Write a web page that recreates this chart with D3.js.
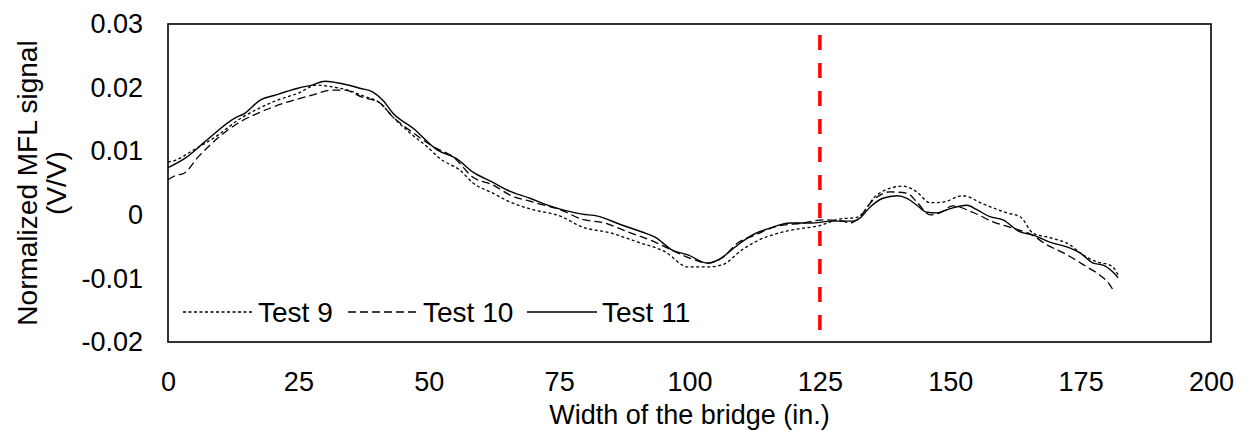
<!DOCTYPE html>
<html>
<head>
<meta charset="utf-8">
<script src="https://cdn.jsdelivr.net/npm/d3@7"></script>
<style>
  html, body { margin: 0; padding: 0; background: #fff; }
  svg { display: block; font-family: "Liberation Sans", Arial, sans-serif; }
</style>
</head>
<body>
<svg id="chart" width="1247" height="431"></svg>
<script>
// ---- data ----
const xTicks = [0, 25, 50, 75, 100, 125, 150, 175, 200];
const yTicks = [-0.02, -0.01, 0, 0.01, 0.02, 0.03];
const seriesNames = ["Test 9", "Test 10", "Test 11"];
const markerX = 125;

const test9X = [0, 1.5, 4.5, 9.0, 14, 17.6, 20.9, 24.9, 28.6, 31.6, 34.5, 37.4, 40.6, 43.1, 46.5, 49.7, 52.2, 56.0, 58.5, 62.3, 65.6, 70.0, 75.2, 79.4, 85.1, 90.1, 95.3, 99.7, 103.5, 106.2, 110.1, 112.5, 117.9, 121.0, 125.0, 128.5, 132.1, 135.9, 138.5, 140.9, 143.6, 146.1, 148.6, 152.4, 156.3, 160.9, 163.4, 165.9, 169.1, 172.9, 174.9, 178.1, 180.6, 181.6, 182.2];
const test9Y = [0.0083, 0.0086, 0.0100, 0.0122, 0.0152, 0.0168, 0.0180, 0.0191, 0.0204, 0.0201, 0.0196, 0.0187, 0.0176, 0.0154, 0.0128, 0.0107, 0.0088, 0.0070, 0.0050, 0.0034, 0.0020, 0.0008, -0.0002, -0.0019, -0.0029, -0.0043, -0.0058, -0.0082, -0.0082, -0.0079, -0.0055, -0.0043, -0.0027, -0.0022, -0.0017, -0.0007, -0.0004, 0.0031, 0.0042, 0.0045, 0.0036, 0.0019, 0.0020, 0.0030, 0.0017, 0.0003, -0.0003, -0.0029, -0.0036, -0.0047, -0.0060, -0.0074, -0.0079, -0.0086, -0.0095];

const test10X = [0, 1.5, 3.0, 5.8, 9.6, 13.4, 17.3, 22.4, 27.6, 31.4, 33.9, 37.2, 40.6, 43.1, 47.0, 50.9, 54.7, 58.5, 62.3, 65.6, 70.0, 75.2, 79.4, 83.8, 88.2, 93.4, 97.2, 101.0, 103.5, 106.2, 109.3, 112.5, 116.8, 121.8, 125.6, 129.4, 130.8, 132.1, 135.2, 138.4, 141.7, 143.6, 146.1, 148.0, 150.5, 154.3, 158.2, 162.0, 165.3, 168.5, 172.4, 176.2, 178.7, 180.6, 181.2];
const test10Y = [0.0055, 0.0062, 0.0065, 0.0091, 0.0121, 0.0144, 0.0160, 0.0176, 0.0188, 0.0196, 0.0196, 0.0185, 0.0176, 0.0154, 0.0129, 0.0107, 0.0091, 0.0059, 0.0047, 0.0031, 0.0020, 0.0008, -0.0007, -0.0013, -0.0027, -0.0043, -0.0058, -0.0071, -0.0076, -0.0068, -0.0044, -0.0032, -0.0018, -0.0013, -0.0008, -0.0010, -0.0013, -0.0008, 0.0023, 0.0036, 0.0034, 0.0020, 0.0000, 0.0003, 0.0014, 0.0004, -0.0011, -0.0021, -0.0030, -0.0047, -0.0063, -0.0082, -0.0095, -0.0110, -0.0118];

const test11X = [0, 3.3, 7.1, 12.8, 14.8, 17.6, 20.5, 24.9, 27.6, 30.1, 33.4, 36.8, 39.3, 41.2, 43.1, 47.0, 51.6, 55.4, 58.5, 62.3, 65.0, 69.4, 73.2, 79.4, 82.4, 87.0, 90.9, 93.4, 96.6, 99.7, 103.5, 105.5, 108.7, 112.0, 115.4, 119.3, 123.1, 127.5, 131.3, 132.7, 134.6, 137.1, 139.8, 141.7, 143.6, 145.5, 147.4, 149.4, 150.5, 153.2, 155.1, 157.6, 160.1, 163.4, 165.9, 169.1, 172.9, 174.9, 177.4, 179.3, 181.2, 182.2];
const test11Y = [0.0074, 0.0089, 0.0115, 0.0152, 0.0160, 0.0180, 0.0188, 0.0199, 0.0204, 0.0210, 0.0206, 0.0199, 0.0193, 0.0180, 0.0160, 0.0136, 0.0102, 0.0088, 0.0067, 0.0051, 0.0039, 0.0026, 0.0014, 0.0001, -0.0002, -0.0016, -0.0027, -0.0035, -0.0055, -0.0063, -0.0076, -0.0071, -0.0051, -0.0032, -0.0021, -0.0013, -0.0013, -0.0010, -0.0010, -0.0005, 0.0012, 0.0026, 0.0030, 0.0026, 0.0015, 0.0004, 0.0003, 0.0008, 0.0011, 0.0015, 0.0008, -0.0003, -0.0008, -0.0027, -0.0032, -0.0043, -0.0052, -0.0060, -0.0076, -0.0079, -0.0090, -0.0099];

// ---- layout ----
const svg = d3.select("#chart");
const plot = { left: 168, right: 1211, top: 24, bottom: 342 };
const TICK_FONT = 27;
const FONT = 28;

const x = d3.scaleLinear().domain([0, 200]).range([plot.left, plot.right]);
const y = d3.scaleLinear().domain([-0.02, 0.03]).range([plot.bottom, plot.top]);

// plain hyphen-minus, as in the original
const fmtY = v => (v === 0 ? "0" : d3.format(".2f")(v).replace("\u2212", "-"));

// axes (no tick marks)
const xAxis = d3.axisBottom(x).tickValues(xTicks).tickSize(0).tickPadding(30).tickFormat(d3.format("d"));
const yAxis = d3.axisLeft(y).tickValues(yTicks).tickSize(0).tickPadding(25).tickFormat(fmtY);

const gx = svg.append("g").attr("transform", `translate(0,${plot.bottom})`).call(xAxis);
const gy = svg.append("g").attr("transform", `translate(${plot.left},0)`).call(yAxis);
[gx, gy].forEach(g => {
  g.select(".domain").remove();
  g.selectAll("text").attr("font-size", TICK_FONT).attr("fill", "#000")
    .attr("font-family", '"Liberation Sans", Arial, sans-serif');
});

// series lines
const series = [
  { name: seriesNames[0], xs: test9X, ys: test9Y, dash: "3,2.5", w: 1.3 },
  { name: seriesNames[1], xs: test10X, ys: test10Y, dash: "8,4", w: 1.3 },
  { name: seriesNames[2], xs: test11X, ys: test11Y, dash: null, w: 1.4 }
];
const line = d3.line().x(d => x(d[0])).y(d => y(d[1])).curve(d3.curveMonotoneX);

series.forEach(s => {
  const pts = s.xs.map((v, i) => [v, s.ys[i]]);
  svg.append("path")
    .datum(pts)
    .attr("d", line)
    .attr("fill", "none")
    .attr("stroke", "#000")
    .attr("stroke-width", s.w)
    .attr("stroke-dasharray", s.dash);
});

// red vertical marker
svg.append("line")
  .attr("x1", x(markerX)).attr("x2", x(markerX))
  .attr("y1", plot.top + 11).attr("y2", plot.bottom - 12)
  .attr("stroke", "#ff0000").attr("stroke-width", 3.5)
  .attr("stroke-dasharray", "15,13");

// plot border
svg.append("rect")
  .attr("x", plot.left).attr("y", plot.top)
  .attr("width", plot.right - plot.left).attr("height", plot.bottom - plot.top)
  .attr("fill", "none").attr("stroke", "#000").attr("stroke-width", 1.6);

// legend
const legendY = 312;
const legendItems = [
  { x0: 183, len: 70, tx: 258 },
  { x0: 348, len: 70, tx: 423 },
  { x0: 527, len: 70, tx: 602 }
];
series.forEach((s, i) => {
  const L = legendItems[i];
  svg.append("line")
    .attr("x1", L.x0).attr("x2", L.x0 + L.len)
    .attr("y1", legendY).attr("y2", legendY)
    .attr("stroke", "#000").attr("stroke-width", s.w)
    .attr("stroke-dasharray", s.dash);
  svg.append("text")
    .attr("x", L.tx).attr("y", legendY + 10)
    .attr("font-size", FONT).attr("fill", "#000")
    .text(s.name);
});

// axis titles
svg.append("text")
  .attr("x", (plot.left + plot.right) / 2).attr("y", 424)
  .attr("text-anchor", "middle").attr("font-size", TICK_FONT).attr("fill", "#000")
  .text("Width of the bridge (in.)");

const yt = svg.append("text")
  .attr("transform", `translate(0,${(plot.top + plot.bottom) / 2}) rotate(-90)`)
  .attr("text-anchor", "middle").attr("font-size", FONT).attr("fill", "#000");
yt.append("tspan").attr("x", 0).attr("y", 37).text("Normalized MFL signal");
yt.append("tspan").attr("x", 0).attr("y", 66).text("(V/V)");
</script>
</body>
</html>
